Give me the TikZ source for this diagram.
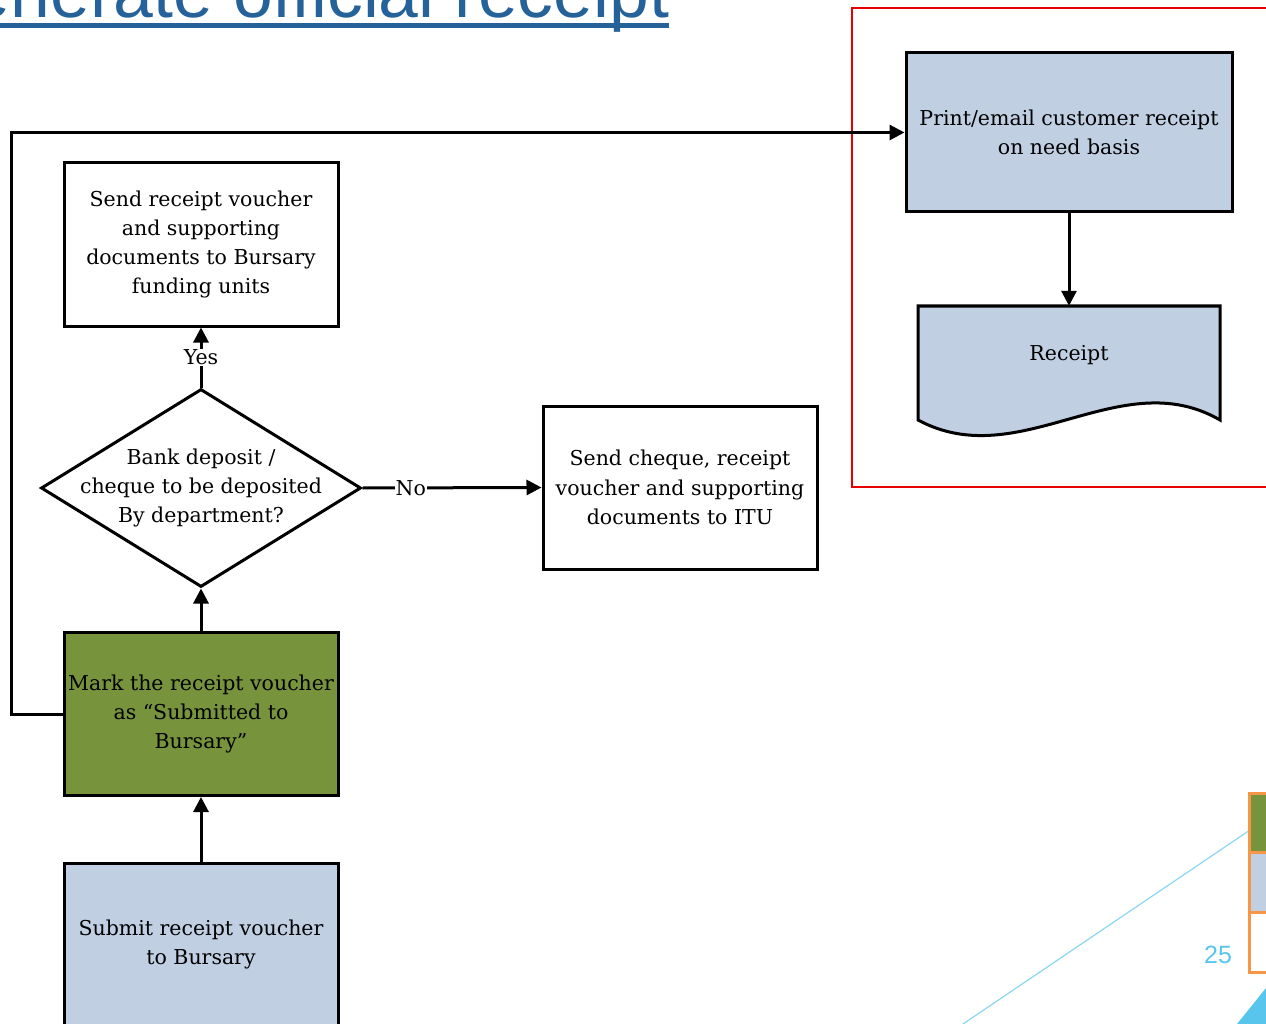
\documentclass[tikz,border=0pt]{standalone}
\usepackage{fontspec}
\setmainfont{DejaVu Serif}
\newfontfamily\titlefont{Liberation Sans}
\usetikzlibrary{shapes.geometric, arrows.meta}

\definecolor{boxblue}{RGB}{192,207,226}
\definecolor{markgreen}{RGB}{119,147,60}
\definecolor{titleblue}{RGB}{38,98,154}
\definecolor{framered}{RGB}{232,0,0}
\definecolor{pageblue}{RGB}{88,198,236}
\definecolor{tabborder}{RGB}{247,150,70}
\newcommand\boxfont{\fontsize{20.5}{29.3}\selectfont}

\tikzset{
    stepbox/.style = {draw, line width=3pt, align=center, minimum width=274pt,
        minimum height=163pt, inner sep=2pt, font=\boxfont},
    arr/.style = {line width=3pt, -{Triangle[length=15pt, width=15pt]}},
    edgelabel/.style = {fill=white, font=\boxfont, inner sep=1pt},
}

\begin{document}
\begin{tikzpicture}[x=1pt, y=-1pt]
    \useasboundingbox (0,0) rectangle (1266,1024);
    % title, cut by the page edge
    \node[anchor=base west, inner sep=0, text=titleblue,
        font=\titlefont\fontsize{71.5}{71.5}\selectfont] (title) at (-85,18) {Generate official receipt};
    \draw[titleblue, line width=4.5pt] ([yshift=-7.5pt]title.base west) -- ([yshift=-7.5pt]title.base east);
    % red frame
    \draw[framered, line width=2.4pt] (852,8) rectangle (1280,487);
    % receipt branch
    \node[stepbox, fill=boxblue, minimum width=326pt, minimum height=159pt] (print) at (1069,132.5)
        {Print/email customer receipt\\on need basis};
    \draw[line width=3pt, fill=boxblue] (918,306) -- (918,420)
        .. controls (1020,475) and (1120,362) .. (1220,420) -- (1220,306) -- cycle;
    \node[font=\boxfont, minimum width=302pt, minimum height=98pt, inner sep=0] (rcpt) at (1069,355) {Receipt};
    % main flow
    \node[stepbox] (send) at (201,244.5) {Send receipt voucher\\and supporting\\documents to Bursary\\funding units};
    \node[diamond, draw, line width=3pt, minimum width=320pt, minimum height=198pt, inner sep=0,
        label={[font=\boxfont, align=center]center:Bank deposit /\\cheque to be deposited\\By department?}] (dec) at (201,488) {};
    \node[stepbox] (cheque) at (680,487.5) {Send cheque, receipt\\voucher and supporting\\documents to ITU};
    \node[stepbox, fill=markgreen] (mark) at (201,714) {Mark the receipt voucher\\as “Submitted to\\Bursary”};
    \node[stepbox, fill=boxblue] (submit) at (201,944.5) {Submit receipt voucher\\to Bursary};

    \draw[arr] (submit) -- (mark);
    \draw[arr] (mark) -- (dec);
    \draw[arr] (dec) -- node[edgelabel] {Yes} (send);
    \draw[arr] (dec.east) -- node[edgelabel, pos=0.27] {No} (cheque.west);
    \draw[arr] (mark.west) -- ++(-51,0) |- (print.west);
    \draw[arr] (print) -- (rcpt.north);

    % slide decoration, bottom right
    \draw[pageblue!70, line width=1.2pt] (960,1026) -- (1250,830);
    \foreach \yy/\cc in {793/markgreen, 852.5/boxblue, 912/white}
        \draw[tabborder, line width=3pt, fill=\cc] (1249,\yy) rectangle (1280,\yy+60);
    \fill[pageblue] (1237,1024) -- (1266,988) -- (1266,1024) -- cycle;
    \node[text=pageblue, font=\titlefont\fontsize{25}{25}\selectfont] (pagenum) at (1218,955) {25};
\end{tikzpicture}
\end{document}
